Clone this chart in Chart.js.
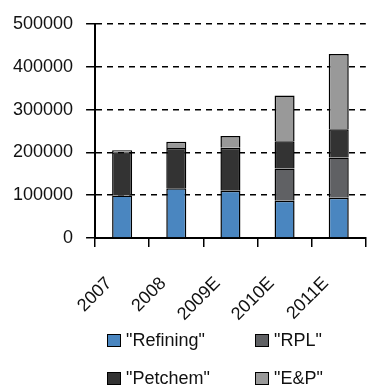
<!DOCTYPE html>
<html>
<head>
<meta charset="utf-8">
<script src="https://cdn.jsdelivr.net/npm/chart.js"></script>
<style>
  body { margin: 0; background: #fff; overflow: hidden; }
  #wrap { position: relative; width: 380px; height: 400px; }
  #legend {
    position: absolute; left: 107px; top: 321px;
    display: grid; grid-template-columns: 148px auto; grid-auto-rows: 38px;
    align-items: center;
    font: 18px Arial, "Liberation Sans", sans-serif; color: #111;
  }
  .item { display: flex; align-items: center; }
  .box { width: 12px; height: 11px; border: 1.5px solid #000; margin-right: 5px; }
</style>
</head>
<body>
<div id="wrap">
  <canvas id="segmentChart" width="380" height="355"></canvas>
  <div id="legend"></div>
</div>
<script>
const years = ['2007', '2008', '2009E', '2010E', '2011E']
const refining = [99000, 116000, 110000, 87000, 94000]
const rpl      = [0, 0, 0, 75000, 94000]
const petchem  = [101000, 94000, 101000, 64000, 66000]
const eandp    = [5000, 15000, 27000, 107000, 176000]
const yTicks = [0, 100000, 200000, 300000, 400000, 500000]

const font = { family: 'Arial, "Liberation Sans", sans-serif', size: 18 }

let chart

window.onload = ()=>{
  const ctx = document.getElementById('segmentChart').getContext('2d')
  const series = [
    { label: '"Refining"', data: refining, backgroundColor: '#4a86c0' },
    { label: '"RPL"', data: rpl, backgroundColor: '#606164' },
    { label: '"Petchem"', data: petchem, backgroundColor: '#333333' },
    { label: '"E&P"', data: eandp, backgroundColor: '#999999' }
  ]
  series.forEach(s=>{
    s.borderColor = '#000'
    s.borderWidth = 1.5
    s.barPercentage = 0.37
    s.categoryPercentage = 1
  })

  chart = new Chart(ctx, {
    type: 'bar',
    data: { labels: years, datasets: series },
    options: {
      responsive: false,
      animation: false,
      layout: { padding: { top: 24, left: 0, right: 0, bottom: 4 } },
      plugins: { legend: { display: false }, tooltip: { enabled: false } },
      scales: {
        x: {
          stacked: true,
          grid: { offset: true, drawOnChartArea: false, tickLength: 9, color: '#000', lineWidth: 1.5 },
          border: { color: '#000', width: 2 },
          ticks: { minRotation: 45, maxRotation: 45, padding: 26, labelOffset: -13, color: '#111', font: font }
        },
        y: {
          stacked: true,
          min: 0,
          max: 500000,
          afterBuildTicks: (scale)=>{ scale.ticks = yTicks.map(v=>({ value: v })) },
          grid: { color: '#000', lineWidth: 1.5, tickLength: 9 },
          border: { color: '#000', width: 2, dash: [6, 5] },
          ticks: { padding: 13, color: '#111', font: font, callback: (v)=>String(v) }
        }
      }
    }
  })

  // legend in two columns, built from the chart's own legend items
  const legend = document.getElementById('legend')
  const items = chart.options.plugins.legend.labels.generateLabels(chart)
  items.forEach(item=>{
    const row = document.createElement('div')
    row.setAttribute('class', 'item')
    const box = document.createElement('span')
    box.setAttribute('class', 'box')
    box.style.background = item.fillStyle
    const text = document.createElement('span')
    text.textContent = item.text
    row.appendChild(box)
    row.appendChild(text)
    legend.appendChild(row)
  })
}
</script>
</body>
</html>
